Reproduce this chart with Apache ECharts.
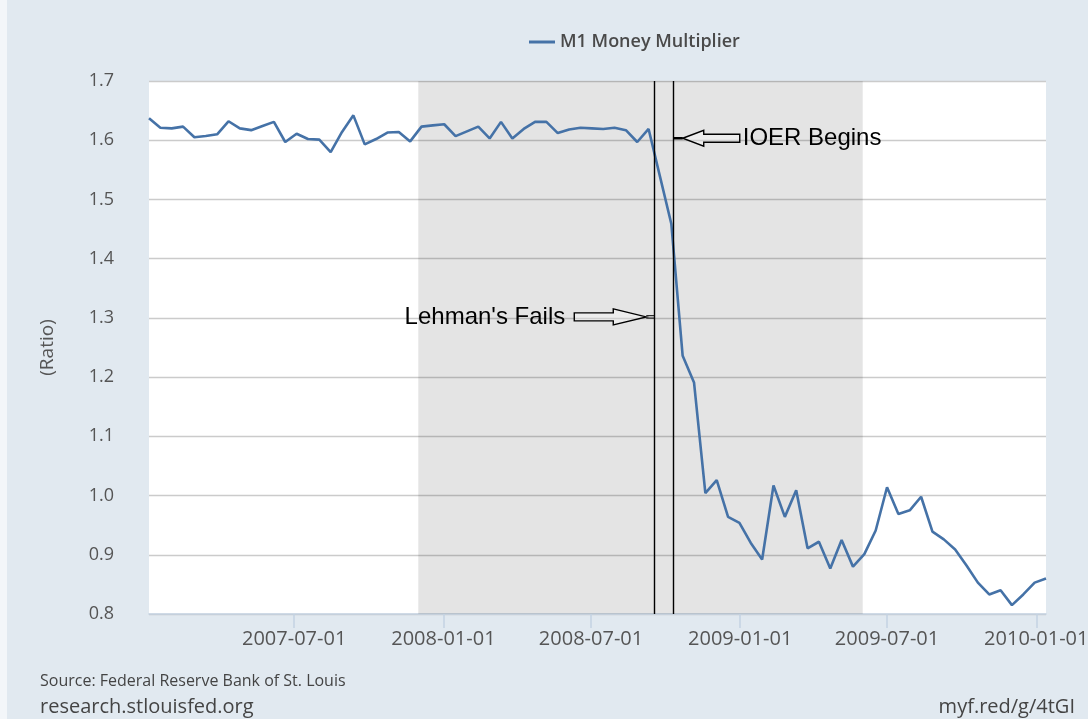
<!DOCTYPE html>
<html>
<head>
<meta charset="utf-8">
<script src="https://cdn.jsdelivr.net/npm/echarts@6/dist/echarts.min.js"></script>
<style>
  html, body { margin: 0; padding: 0; background: #f3f6f9; }
  #chart { position: absolute; left: 7px; top: 0; width: 1081px; height: 719px; }
</style>
</head>
<body>
<div id="chart"></div>
<script>
// ---- data ----
const seriesName = 'M1 Money Multiplier';
const dates = [
  '2007-01-03','2007-01-17','2007-01-31','2007-02-14','2007-02-28','2007-03-14','2007-03-28','2007-04-11',
  '2007-04-25','2007-05-09','2007-05-23','2007-06-06','2007-06-20','2007-07-04','2007-07-18','2007-08-01',
  '2007-08-15','2007-08-29','2007-09-12','2007-09-26','2007-10-10','2007-10-24','2007-11-07','2007-11-21',
  '2007-12-05','2007-12-19','2008-01-02','2008-01-16','2008-01-30','2008-02-13','2008-02-27','2008-03-12',
  '2008-03-26','2008-04-09','2008-04-23','2008-05-07','2008-05-21','2008-06-04','2008-06-18','2008-07-02',
  '2008-07-16','2008-07-30','2008-08-13','2008-08-27','2008-09-10','2008-09-24','2008-10-08','2008-10-22',
  '2008-11-05','2008-11-19','2008-12-03','2008-12-17','2008-12-31','2009-01-14','2009-01-28','2009-02-11',
  '2009-02-25','2009-03-11','2009-03-25','2009-04-08','2009-04-22','2009-05-06','2009-05-20','2009-06-03',
  '2009-06-17','2009-07-01','2009-07-15','2009-07-29','2009-08-12','2009-08-26','2009-09-09','2009-09-23',
  '2009-10-07','2009-10-21','2009-11-04','2009-11-18','2009-12-02','2009-12-16','2009-12-30','2010-01-13'
];
const multiplier = [
  1.637, 1.621, 1.620, 1.623, 1.605, 1.607, 1.610, 1.632,
  1.620, 1.617, 1.624, 1.631, 1.597, 1.611, 1.602, 1.601,
  1.580, 1.614, 1.642, 1.593, 1.602, 1.613, 1.614, 1.598,
  1.623, 1.625, 1.627, 1.607, 1.615, 1.623, 1.603, 1.631,
  1.603, 1.619, 1.631, 1.631, 1.612, 1.618, 1.621, 1.620,
  1.619, 1.621, 1.617, 1.597, 1.619, 1.539, 1.459, 1.236,
  1.191, 1.004, 1.026, 0.964, 0.954, 0.920, 0.892, 1.017,
  0.964, 1.009, 0.911, 0.922, 0.877, 0.925, 0.880, 0.901,
  0.941, 1.014, 0.969, 0.975, 0.998, 0.939, 0.926, 0.909,
  0.882, 0.853, 0.833, 0.840, 0.815, 0.833, 0.853, 0.860
];
const xTickLabels = ['2007-07-01','2008-01-01','2008-07-01','2009-01-01','2009-07-01','2010-01-01'];
const yRange = [0.8, 1.7, 0.1];
const recession = ['2007-12-01', '2009-06-01'];
const lehman = { label: "Lehman's Fails", date: '2008-09-17', at: 1.3 };
const ioer = { label: 'IOER Begins', date: '2008-10-11', at: 1.6 };
const yAxisName = '(Ratio)';
const sourceText = 'Source: Federal Reserve Bank of St. Louis';
const siteText = 'research.stlouisfed.org';
const linkText = 'myf.red/g/4tGI';

// ---- helpers ----
function ts(s) { const p = s.split('-').map(Number); return Date.UTC(p[0], p[1] - 1, p[2]); }
function fmt(v) {
  const d = new Date(Math.round(v));
  const pad = n => (n < 10 ? '0' : '') + n;
  return d.getUTCFullYear() + '-' + pad(d.getUTCMonth() + 1) + '-' + pad(d.getUTCDate());
}

const chart = echarts.init(document.getElementById('chart'), null, { renderer: 'canvas' });
const lineData = dates.map((d, i) => [ts(d), multiplier[i]]);
const tickVals = xTickLabels.map(ts);

const footer = [
  { type: 'text', left: 33, top: 673, style: { text: sourceText, font: '16px "Open Sans"', fill: '#444' } },
  { type: 'text', left: 33, top: 697, style: { text: siteText, font: '20px "Open Sans"', fill: '#444' } },
  { type: 'text', right: 13, top: 697, style: { text: linkText, font: '20px "Open Sans"', fill: '#444' } }
];

chart.setOption({
  backgroundColor: '#e1e9f0',
  animation: false,
  textStyle: { fontFamily: 'Open Sans' },
  legend: {
    data: [seriesName],
    left: 517, top: 28,
    icon: 'rect', itemWidth: 26, itemHeight: 3, itemGap: 8,
    textStyle: { fontFamily: 'Open Sans', fontSize: 18, fontWeight: 600, color: '#4a4a4a' }
  },
  grid: { left: 142, right: 42, top: 81, bottom: 105, outerBoundsMode: 'none', containLabel: false,
          backgroundColor: '#ffffff', show: true, borderWidth: 0 },
  xAxis: {
    type: 'value',
    min: ts(dates[0]), max: ts(dates[dates.length - 1]),
    axisLine: { show: true, lineStyle: { color: '#c3d2e2', width: 1.5 } },
    axisTick: { show: true, length: 14, customValues: tickVals, lineStyle: { color: '#c3d2e2', width: 1.5 } },
    axisLabel: { customValues: tickVals, formatter: v => fmt(v), fontSize: 20, color: '#555', margin: 15, fontFamily: 'Open Sans' },
    splitLine: { show: false }
  },
  yAxis: {
    type: 'value',
    min: yRange[0], max: yRange[1], interval: yRange[2],
    name: yAxisName, nameLocation: 'middle', nameRotate: 90, nameGap: 92,
    nameTextStyle: { fontSize: 19, color: '#555', fontFamily: 'Open Sans' },
    axisLine: { show: false }, axisTick: { show: false },
    axisLabel: { formatter: v => v.toFixed(1), fontSize: 18, color: '#555', margin: 35, fontFamily: 'Open Sans' },
    splitLine: { lineStyle: { color: '#cbcbcb', width: 1.3 } }
  },
  series: [{
    name: seriesName,
    type: 'line',
    data: lineData,
    showSymbol: false,
    symbol: 'none',
    lineStyle: { color: '#4572a7', width: 2.6 },
    itemStyle: { color: '#4572a7' },
    markArea: {
      silent: true,
      itemStyle: { color: 'rgba(0,0,0,0.105)' },
      data: [[{ xAxis: ts(recession[0]) }, { xAxis: ts(recession[1]) }]]
    },
    markLine: {
      silent: true,
      symbol: ['none', 'none'],
      label: { show: false },
      lineStyle: { color: '#000', width: 1.4, type: 'solid' },
      data: [{ xAxis: ts(lehman.date) }, { xAxis: ts(ioer.date) }]
    }
  }],
  graphic: footer
});

// ---- annotations anchored to the data coordinates ----
const pL = chart.convertToPixel({ xAxisIndex: 0, yAxisIndex: 0 }, [ts(lehman.date), lehman.at]);
const pI = chart.convertToPixel({ xAxisIndex: 0, yAxisIndex: 0 }, [ts(ioer.date), ioer.at]);
const L = pL[0], cL = pL[1] - 1;
const I = pI[0], cI = pI[1] - 2;
chart.setOption({
  graphic: footer.concat([
    { type: 'text', x: L - 89, y: cL, z: 100,
      style: { text: lehman.label, font: '24px "Liberation Sans"', fill: '#000', align: 'right', verticalAlign: 'middle' } },
    { type: 'polygon', z: 100,
      shape: { points: [[L - 80, cL - 4], [L - 41, cL - 4], [L - 41, cL - 8], [L - 8, cL], [L - 41, cL + 8], [L - 41, cL + 4], [L - 80, cL + 4]] },
      style: { fill: 'rgba(255,255,255,0.35)', stroke: '#000', lineWidth: 1.4 } },
    { type: 'line', z: 100, shape: { x1: L - 8, y1: cL - 1.2, x2: L, y2: cL - 1.2 }, style: { stroke: '#000', lineWidth: 1 } },
    { type: 'line', z: 100, shape: { x1: L - 8, y1: cL + 1.2, x2: L, y2: cL + 1.2 }, style: { stroke: '#000', lineWidth: 1 } },
    { type: 'text', x: I + 69, y: cI, z: 100,
      style: { text: ioer.label, font: '24px "Liberation Sans"', fill: '#000', align: 'left', verticalAlign: 'middle' } },
    { type: 'polygon', z: 100,
      shape: { points: [[I + 9, cI], [I + 30, cI - 8], [I + 30, cI - 4], [I + 66, cI - 4], [I + 66, cI + 4], [I + 30, cI + 4], [I + 30, cI + 8]] },
      style: { fill: 'rgba(255,255,255,0.35)', stroke: '#000', lineWidth: 1.4 } },
    { type: 'line', z: 100, shape: { x1: I, y1: cI, x2: I + 9, y2: cI }, style: { stroke: '#000', lineWidth: 2.5 } }
  ])
});
</script>
</body>
</html>
